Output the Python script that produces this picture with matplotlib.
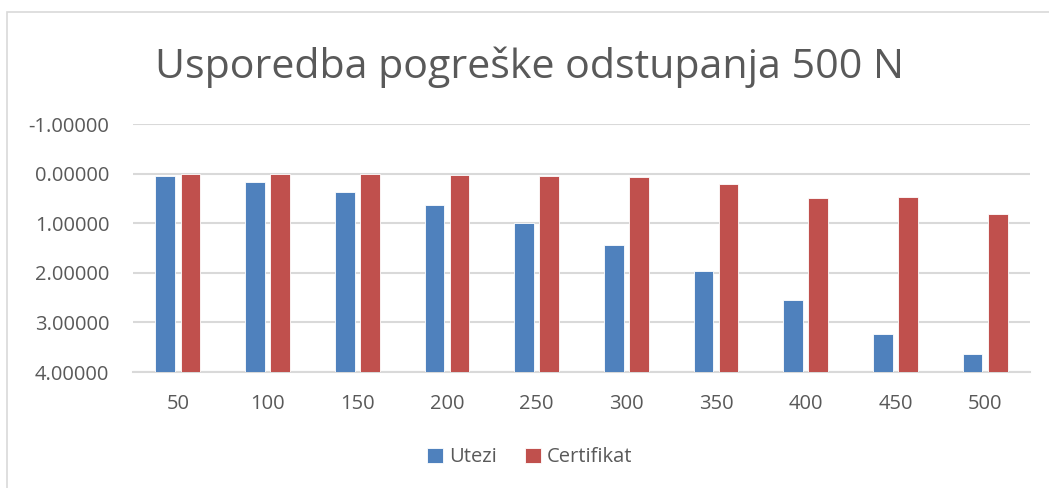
import matplotlib
matplotlib.use('Agg')
import matplotlib.pyplot as plt
from matplotlib.patches import Rectangle
import numpy as np

plt.rcParams['font.family'] = ['Open Sans', 'DejaVu Sans']

# sile (N)
kategorije = ['50', '100', '150', '200', '250', '300', '350', '400', '450', '500']
utezi = [0.05, 0.17, 0.37, 0.64, 1.00, 1.44, 1.96, 2.55, 3.23, 3.64]
certifikat = [0.00, 0.01, 0.00, 0.03, 0.04, 0.06, 0.20, 0.50, 0.48, 0.82]

plava = '#4F81BD'
crvena = '#C0504D'
siva = '#595959'
mreza = '#D9D9D9'

fig = plt.figure(figsize=(10.49, 4.88), dpi=100)
ax = fig.add_axes([0.1268, 0.2377, 0.8551, 0.5082])

x = np.arange(len(kategorije))
sirina = 0.22
dno = 4.0  # os se sijece na maksimumu (obrnuti redoslijed)

ax.bar(x - 0.14, [dno - v for v in utezi], sirina, bottom=utezi,
       color=plava, edgecolor='white', linewidth=0.6, label='Utezi', zorder=3)
ax.bar(x + 0.14, [dno - v for v in certifikat], sirina, bottom=certifikat,
       color=crvena, edgecolor='white', linewidth=0.6, label='Certifikat', zorder=3)

ax.set_ylim(4, -1)
ax.set_xlim(-0.5, len(kategorije) - 0.5)
ax.set_yticks([-1, 0, 1, 2, 3, 4])
ax.set_yticklabels(['%.5f' % t for t in [-1, 0, 1, 2, 3, 4]])
ax.set_xticks(x)
ax.set_xticklabels(kategorije)

ax.grid(axis='y', color=mreza, linewidth=1.5, zorder=0)
for s in ['top', 'left', 'right']:
    ax.spines[s].set_visible(False)
ax.spines['bottom'].set_color(mreza)
ax.spines['bottom'].set_linewidth(1.5)
ax.tick_params(axis='both', length=0, labelsize=14.5, colors=siva)
ax.tick_params(axis='y', pad=17)
ax.tick_params(axis='x', pad=16)

fig.text(0.505, 0.862, 'Usporedba pogreške odstupanja 500 N', ha='center', va='center',
         fontsize=29.6, color=siva)

leg = fig.legend(loc='center', bbox_to_anchor=(0.505, 0.063), ncol=2, frameon=False,
                 fontsize=14.5, handlelength=0.8, handleheight=0.8, handletextpad=0.3,
                 columnspacing=1.4)
for t in leg.get_texts():
    t.set_color(siva)

# okvir grafikona
fig.patches.append(Rectangle((7 / 1049, -0.1), 1.2, 1 - 12 / 488 + 0.1,
                             transform=fig.transFigure, fill=False,
                             edgecolor=mreza, linewidth=1.2))

fig.savefig('out.png', dpi=100)
